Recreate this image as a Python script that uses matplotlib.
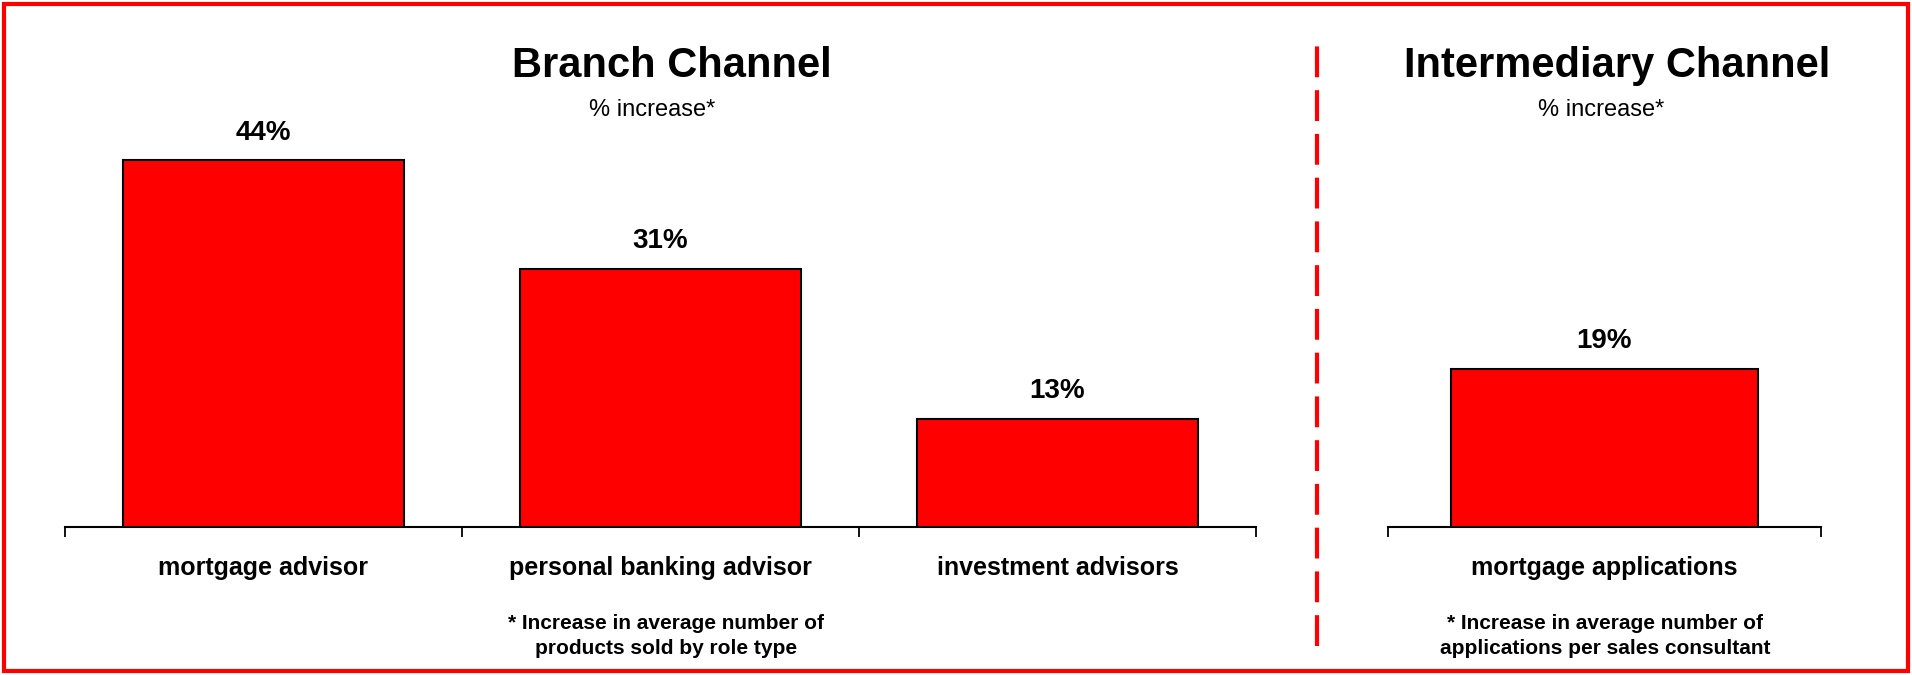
import matplotlib.pyplot as plt
from matplotlib.lines import Line2D
from matplotlib.patches import Rectangle

plt.rcParams['font.family'] = ['Liberation Sans', 'DejaVu Sans']

# branch channel: % increase in products sold per role
branch_roles = ['mortgage advisor', 'personal banking advisor', 'investment advisors']
branch_increase = [44, 31, 13]

# intermediary channel: % increase in applications per consultant
inter_roles = ['mortgage applications']
inter_increase = [19]

branch_note = '* Increase in average number of\nproducts sold by role type'
inter_note = '* Increase in average number of\napplications per sales consultant'

RED = '#FF0000'
W, H = 1912, 675

fig = plt.figure(figsize=(W / 100, H / 100), dpi=100)


def bar_panel(rect, labels, values):
    ax = fig.add_axes(rect)
    x = list(range(len(labels)))
    ax.bar(x, values, width=0.71, color=RED, edgecolor='black', linewidth=1.5, zorder=3)
    for xi, v in zip(x, values):
        ax.annotate(f'{v}%', (xi, v), xytext=(0, 15), textcoords='offset points',
                    ha='center', va='baseline', fontsize=20, fontweight='bold')
    ax.set_xlim(-0.5, len(labels) - 0.5)
    ax.set_ylim(0, 50)
    ax.set_xticks(x)
    ax.set_xticklabels(labels, fontsize=18, fontweight='bold')
    ax.set_xticks([i - 0.5 for i in range(len(labels) + 1)], minor=True)
    ax.tick_params(axis='x', which='major', length=0, pad=21)
    ax.tick_params(axis='x', which='minor', length=7, width=1.3, direction='out')
    ax.set_yticks([])
    for side in ('left', 'right', 'top'):
        ax.spines[side].set_visible(False)
    ax.spines['bottom'].set_linewidth(1.5)
    ax.patch.set_alpha(0)
    return ax


base = 1 - 527 / H
height = 50 * 8.33 / H
bar_panel([65 / W, base, 1191 / W, height], branch_roles, branch_increase)
bar_panel([1388 / W, base, 433 / W, height], inter_roles, inter_increase)

# panel headings
fig.text(672 / W, 1 - 77 / H, 'Branch Channel', ha='center', va='baseline',
         fontsize=30, fontweight='bold')
fig.text(652 / W, 1 - 116 / H, '% increase*', ha='center', va='baseline', fontsize=17)
fig.text(1617 / W, 1 - 77 / H, 'Intermediary Channel', ha='center', va='baseline',
         fontsize=30, fontweight='bold')
fig.text(1601 / W, 1 - 116 / H, '% increase*', ha='center', va='baseline', fontsize=17)

# footnotes
fig.text(666 / W, 1 - 636 / H, branch_note, ha='center', va='center',
         fontsize=15, fontweight='bold', linespacing=1.45)
fig.text(1605 / W, 1 - 636 / H, inter_note, ha='center', va='center',
         fontsize=15, fontweight='bold', linespacing=1.45)

# dashed divider between channels
fig.add_artist(Line2D([1317 / W, 1317 / W], [1 - 646 / H, 1 - 43 / H],
                      transform=fig.transFigure, color=RED, linewidth=3,
                      dashes=(7.4, 3.1)))

# red frame around the slide
fig.add_artist(Rectangle((4 / W, 4 / H), 1904 / W, 667 / H, transform=fig.transFigure,
                         fill=False, edgecolor=RED, linewidth=3))

fig.savefig('out.png', dpi=100)
